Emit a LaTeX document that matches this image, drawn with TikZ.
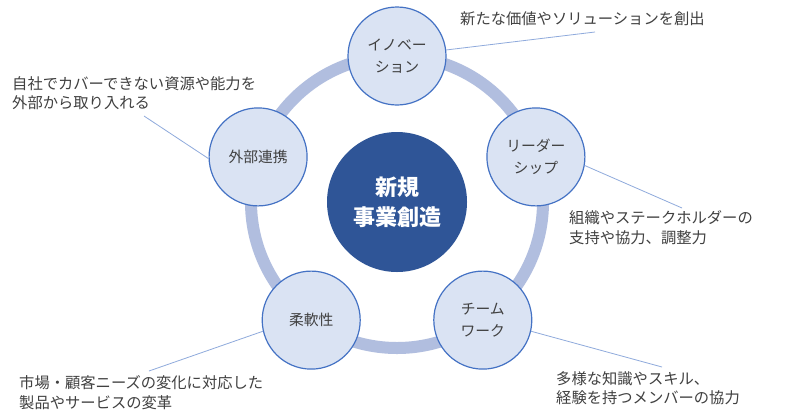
\documentclass[tikz,border=0pt]{standalone}
\usepackage{fontspec}
\setmainfont{Noto Sans CJK JP}
\definecolor{ringc}{RGB}{177,190,223}
\definecolor{nodefill}{RGB}{218,227,243}
\definecolor{nodeline}{RGB}{68,114,196}
\definecolor{corec}{RGB}{47,85,151}
\definecolor{txt}{RGB}{64,64,64}
\definecolor{linkc}{RGB}{143,170,220}
\begin{document}
\begin{tikzpicture}[x=1pt,y=-1pt,
 item/.style={circle,draw=nodeline,line width=1.2pt,fill=nodefill,minimum size=98pt,inner sep=0pt,align=center,font=\fontsize{14.8}{22}\selectfont,text=txt},
 core/.style={circle,fill=corec,minimum size=140pt,inner sep=0pt,align=center,text=white,font=\fontsize{22}{30}\selectfont\bfseries},
 note/.style={anchor=west,inner sep=0pt,align=left,text=txt,font=\fontsize{15.3}{19.5}\selectfont},
 link/.style={draw=linkc,line width=0.8pt}]
\fill[white] (0,0) rectangle (800,416);
\path[use as bounding box] (0,0) rectangle (800,416);
\coordinate (o) at (397,202);
\draw[ringc,line width=12pt] (o) circle[radius=146];
\node[core] (core) at (o) {新規\\事業創造};
\node[item] (n1) at (397,56) {イノベー\\ション};
\node[item] (n2) at (535.9,156.9) {リーダー\\シップ};
\node[item] (n3) at (482.8,320.1) {チーム\\ワーク};
\node[item] (n4) at (311.2,320.1) {柔軟性};
\node[item] (n5) at (258.1,156.9) {外部連携};
\node[note] (t1) at (460,19) {新たな価値やソリューションを創出};
\node[note] (t5) at (12,93) {自社でカバーできない資源や能力を\\外部から取り入れる};
\node[note] (t2) at (569,227.5) {組織やステークホルダーの\\支持や協力、調整力};
\node[note] (t4) at (19,392.5) {市場・顧客ニーズの変化に対応した\\製品やサービスの変革};
\node[note] (t3) at (556,388) {多様な知識やスキル、\\経験を持つメンバーの協力};
\coordinate (e1) at (595,32);
\coordinate (e2) at (682,208);
\coordinate (e3) at (662,367);
\coordinate (e4) at (149,371);
\coordinate (e5) at (144,116);
\draw[link] (n1.7) -- (e1);
\draw[link] (n2.-10) -- (e2);
\draw[link] (n3.-13) -- (e3);
\draw[link] (n4.193) -- (e4);
\draw[link] (n5.182) -- (e5);
\end{tikzpicture}
\end{document}
